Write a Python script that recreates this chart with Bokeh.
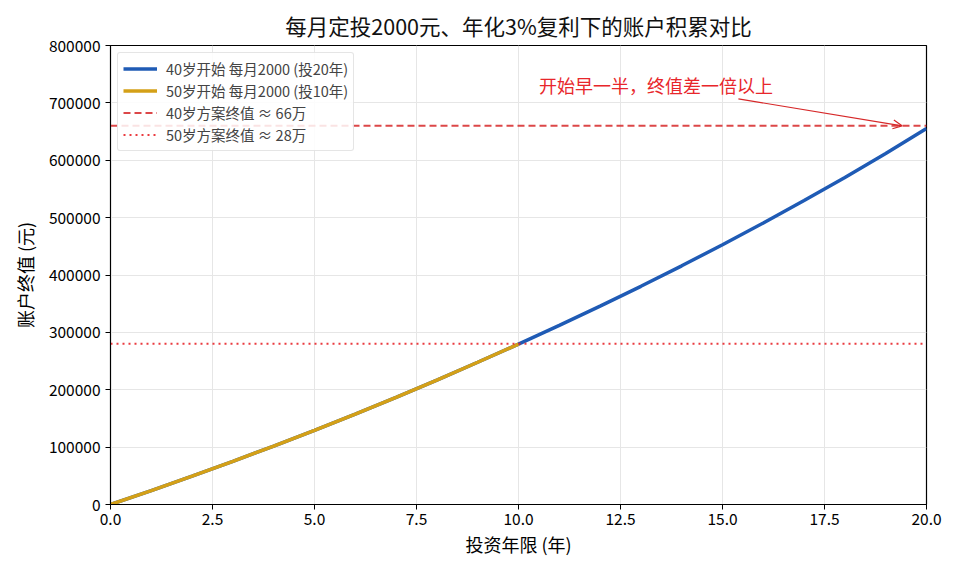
import numpy as np
from bokeh.plotting import figure
from bokeh.models import Arrow, OpenHead, Label, Range1d, NumeralTickFormatter, SingleIntervalTicker, FixedTicker
from bokeh.embed import file_html
from bokeh.resources import INLINE

FONT = "Noto Sans CJK SC"

# account balance, one point per year
years = [0, 1, 2, 3, 4, 5, 6, 7, 8, 9, 10, 11, 12, 13, 14, 15, 16, 17, 18, 19, 20]
balance_40 = [0, 24300, 49400, 75200, 101800, 129300, 157600, 186800, 216900, 247900,
              279500, 312100, 345700, 380300, 416000, 452800, 490700, 529800, 570100, 611600, 655500]
years_50 = years[:11]
balance_50 = balance_40[:11]

final_40 = 660000
final_50 = 280000

labels = ["40岁开始 每月2000 (投20年)", "50岁开始 每月2000 (投10年)",
          "40岁方案终值 ≈ 66万", "50岁方案终值 ≈ 28万"]

p = figure(width=944, height=560, output_backend="svg", toolbar_location=None,
           x_range=Range1d(0, 20), y_range=Range1d(0, 800000),
           title="每月定投2000元、年化3%复利下的账户积累对比",
           min_border_left=110, min_border_right=18, min_border_top=45, min_border_bottom=56)

p.title.text_font = FONT
p.title.text_font_size = "21.5px"
p.title.text_font_style = "normal"
p.title.align = "center"
p.title.text_color = "#111111"
p.title.offset = 0

p.outline_line_color = "black"
p.outline_line_width = 1.2

# grid
p.xgrid.grid_line_color = "#e6e6e6"
p.ygrid.grid_line_color = "#e6e6e6"

# axes
p.xaxis.ticker = FixedTicker(ticks=[0, 2.5, 5, 7.5, 10, 12.5, 15, 17.5, 20])
p.xaxis.formatter = NumeralTickFormatter(format="0.0")
p.yaxis.ticker = SingleIntervalTicker(interval=100000)
p.yaxis.formatter = NumeralTickFormatter(format="0")
p.xaxis.axis_label = "投资年限 (年)"
p.yaxis.axis_label = "账户终值 (元)"
for ax in (p.xaxis, p.yaxis):
    ax.axis_label_text_font = FONT
    ax.axis_label_text_font_size = "18px"
    ax.axis_label_text_font_style = "normal"
    ax.axis_label_text_color = "black"
    ax.major_label_text_font = FONT
    ax.major_label_text_font_size = "15.5px"
    ax.major_label_text_color = "black"
    ax.axis_line_color = "black"
    ax.major_tick_line_color = "black"
    ax.minor_tick_line_color = None
    ax.major_tick_out = 5
    ax.major_tick_in = 0
p.xaxis.major_label_standoff = 3
p.xaxis.axis_label_standoff = 3
p.yaxis.axis_label_standoff = 8

# curves
p.line(years, balance_40, line_color="#1f5bb5", line_width=3.5, legend_label=labels[0])
p.line(years_50, balance_50, line_color="#d4a017", line_width=3.5, legend_label=labels[1])

# final value lines
p.line([0, 20], [final_40, final_40], line_color="#d62728", line_alpha=0.85, line_width=2,
       line_dash="7 4", legend_label=labels[2])
p.line([0, 20], [final_50, final_50], line_color="#e8262b", line_alpha=0.9, line_width=2,
       line_dash="2 4", legend_label=labels[3])

# annotation
p.add_layout(Arrow(end=OpenHead(size=9, line_color="#d62728", line_width=1.2),
                   x_start=15.39, y_start=707000, x_end=19.4, y_end=660000,
                   line_color="#d62728", line_width=1.2))
p.add_layout(Label(x=10.5, y=732000, text="开始早一半，终值差一倍以上",
                   text_font=FONT, text_font_size="18px", text_color="#e8262b",
                   text_baseline="middle"))

p.legend.location = "top_left"
p.legend.label_text_font = FONT
p.legend.label_text_font_size = "14.5px"
p.legend.label_height = 21
p.legend.glyph_height = 21
p.legend.glyph_width = 34
p.legend.label_standoff = 9
p.legend.spacing = 1
p.legend.padding = 5
p.legend.margin = 7
p.legend.border_line_color = "#cccccc"
p.legend.border_radius = 3
p.legend.background_fill_alpha = 0.85

open("out.html", "w").write(file_html(p, INLINE))
